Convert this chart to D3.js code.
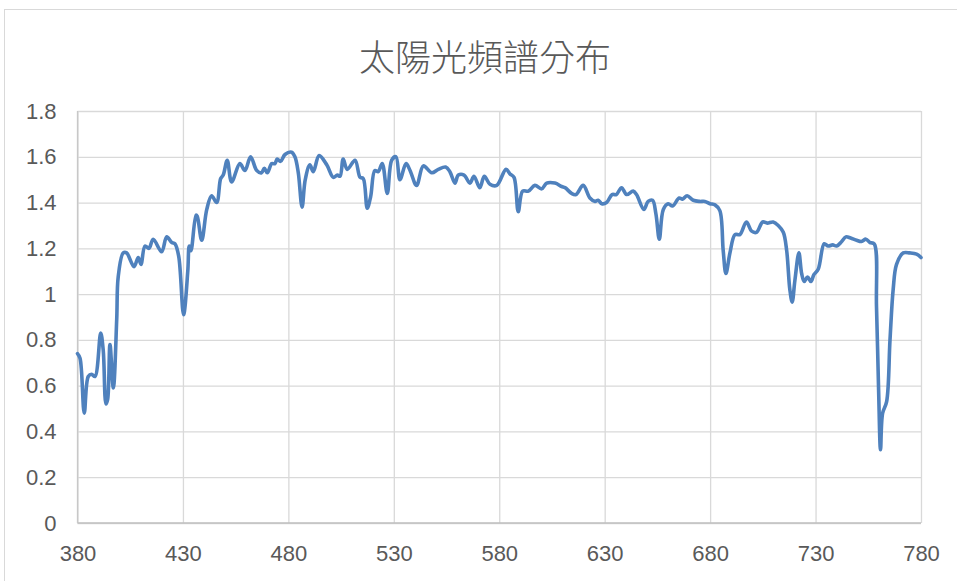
<!DOCTYPE html>
<html>
<head>
<meta charset="utf-8">
<script src="https://cdn.jsdelivr.net/npm/d3@7"></script>
<style>
  body { margin: 0; background: #fff; }
  svg { display: block; }
</style>
</head>
<body>
<div id="chart-area"></div>
<script>

// wavelength (nm) and relative intensity
var wavelength = [380, 381.2, 383.2, 385.1, 386.7, 388.3, 391, 392.2, 393.5, 394.3,
	395.4, 397, 398.6, 399.3, 401.7, 403.3, 406.8, 408.8, 410.1, 412,
	413.9, 415.9, 419.9, 422.3, 424.7, 426.2, 428, 430.3, 432.3, 433,
	433.8, 436.2, 436.8, 438.9, 441.3, 443.6, 446, 447.9, 449.1, 451,
	453.1, 457, 459.4, 462.1, 465, 467.3, 468.6, 470, 472.1, 473.6,
	474.7, 476.3, 478.4, 481.5, 483.1, 484.7, 486.5, 488, 490.2, 491.8,
	494.6, 498.2, 501.3, 503.2, 504.5, 506, 507.9, 511.6, 514, 515.5,
	517.4, 519, 521, 522.6, 524.5, 526.9, 529, 531, 532.9, 535.8,
	537.7, 540.8, 544, 548, 551.1, 554.6, 556.6, 559, 560.6, 563.3,
	566.1, 568, 570.8, 572.9, 575.6, 578.8, 583.2, 585.1, 587, 589,
	591.1, 593.8, 596.9, 600.1, 602.5, 606.4, 609.6, 611.2, 614.3, 616.4,
	619.8, 623, 625.4, 626.9, 628.6, 630.9, 633.5, 635.5, 638, 640.4,
	643.5, 645.1, 648.6, 650.6, 652.7, 654.3, 655.9, 657.8, 660.1, 662.2,
	665.3, 666.9, 669.1, 672, 675.1, 677.5, 679.9, 682.3, 684.6, 686.2,
	687.5, 689.4, 691.8, 694.1, 697.2, 699.7, 702, 704.9, 707.1, 709.9,
	712.3, 714.7, 716.3, 717.8, 718.9, 720.2, 722.1, 723.4, 724.6, 726.2,
	727.8, 729.2, 731.3, 734.1, 736, 738.1, 740, 742.4, 744.4, 746.6,
	749.5, 751.8, 753.9, 755.8, 757.8, 758.9, 759.9, 760.8, 761.8, 763.7,
	765.3, 766.8, 768.4, 771.6, 774.7, 777.9, 780];

var intensity = [0.74, 0.72, 0.48, 0.64, 0.65, 0.64, 0.83, 0.755, 0.52, 0.54,
	0.78, 0.59, 0.89, 1.075, 1.18, 1.18, 1.12, 1.16, 1.13, 1.21,
	1.20, 1.24, 1.185, 1.25, 1.225, 1.22, 1.165, 0.91, 1.10, 1.21,
	1.19, 1.345, 1.34, 1.235, 1.37, 1.43, 1.40, 1.505, 1.52, 1.585,
	1.49, 1.57, 1.54, 1.60, 1.54, 1.53, 1.55, 1.53, 1.57, 1.57,
	1.59, 1.58, 1.61, 1.62, 1.60, 1.53, 1.38, 1.50, 1.565, 1.535,
	1.605, 1.565, 1.51, 1.52, 1.515, 1.59, 1.545, 1.585, 1.51, 1.505,
	1.375, 1.425, 1.54, 1.535, 1.57, 1.44, 1.585, 1.60, 1.50, 1.57,
	1.54, 1.475, 1.56, 1.53, 1.545, 1.555, 1.535, 1.485, 1.52, 1.52,
	1.485, 1.515, 1.465, 1.515, 1.48, 1.475, 1.545, 1.525, 1.51, 1.36,
	1.45, 1.45, 1.475, 1.46, 1.485, 1.485, 1.47, 1.465, 1.44, 1.435,
	1.475, 1.42, 1.405, 1.41, 1.395, 1.40, 1.435, 1.435, 1.465, 1.435,
	1.45, 1.435, 1.37, 1.405, 1.41, 1.35, 1.24, 1.37, 1.395, 1.385,
	1.42, 1.415, 1.43, 1.41, 1.405, 1.405, 1.395, 1.39, 1.365, 1.19,
	1.09, 1.18, 1.26, 1.26, 1.315, 1.275, 1.27, 1.315, 1.31, 1.315,
	1.30, 1.27, 1.19, 1.02, 0.965, 1.06, 1.18, 1.09, 1.055, 1.075,
	1.055, 1.085, 1.11, 1.22, 1.21, 1.215, 1.21, 1.23, 1.25, 1.245,
	1.235, 1.23, 1.24, 1.225, 1.22, 0.945, 0.58, 0.32, 0.48, 0.53,
	0.80, 1.02, 1.13, 1.18, 1.18, 1.175, 1.16];

var xTicks = [380, 430, 480, 530, 580, 630, 680, 730, 780];
var yTicks = [0, 0.2, 0.4, 0.6, 0.8, 1, 1.2, 1.4, 1.6, 1.8];
var title = "太陽光頻譜分布";

var width = 957,
	height = 581;

var plot = {left: 77.5, right: 921, top: 111, bottom: 523};

var svg = d3.select("#chart-area").append("svg")
	.attr("width", width)
	.attr("height", height);

// chart frame
svg.append("rect")
	.attr("x", 4.5)
	.attr("y", 9.5)
	.attr("width", 970)
	.attr("height", 620)
	.attr("fill", "#fff")
	.attr("stroke", "#d9d9d9")
	.attr("stroke-width", 1);

var xScale = d3.scaleLinear()
	.domain([380, 780])
	.range([plot.left, plot.right]);

var yScale = d3.scaleLinear()
	.domain([0, 1.8])
	.range([plot.bottom, plot.top]);

svg.append("text")
	.attr("x", 485)
	.attr("y", 55)
	.attr("text-anchor", "middle")
	.attr("dominant-baseline", "central")
	.attr("font-family", "'Noto Sans CJK TC', 'Noto Sans CJK SC', sans-serif")
	.attr("font-weight", 300)
	.attr("font-size", 36)
	.attr("fill", "#595959")
	.text(title);

// y gridlines + labels
var yAxis = d3.axisLeft(yScale)
	.tickValues(yTicks)
	.tickSize(-(plot.right - plot.left))
	.tickPadding(21)
	.tickFormat(function(d) { return String(+d.toFixed(1)); });

var gy = svg.append("g")
	.attr("transform", "translate(" + plot.left + ",0)")
	.call(yAxis);

// x gridlines + labels
var xAxis = d3.axisBottom(xScale)
	.tickValues(xTicks)
	.tickSize(-(plot.bottom - plot.top))
	.tickPadding(22)
	.tickFormat(d3.format("d"));

var gx = svg.append("g")
	.attr("transform", "translate(0," + plot.bottom + ")")
	.call(xAxis);

[gx, gy].forEach(function(g) {
	g.select(".domain").remove();
	g.selectAll(".tick line")
		.attr("stroke", "#d9d9d9")
		.attr("stroke-width", 1.3);
	g.selectAll(".tick text")
		.attr("font-family", "'Liberation Sans', Arial, sans-serif")
		.attr("font-size", 22)
		.attr("fill", "#595959");
});

// axis lines
svg.append("line")
	.attr("x1", plot.left).attr("x2", plot.right)
	.attr("y1", plot.bottom).attr("y2", plot.bottom)
	.attr("stroke", "#bfbfbf")
	.attr("stroke-width", 1.5);

svg.append("line")
	.attr("x1", plot.left).attr("x2", plot.left)
	.attr("y1", plot.top).attr("y2", plot.bottom)
	.attr("stroke", "#c8c8c8")
	.attr("stroke-width", 1.3);

var points = wavelength.map(function(w, i) {
	return {x: w, y: intensity[i]};
});

var line = d3.line()
	.x(function(d) { return xScale(d.x); })
	.y(function(d) { return yScale(d.y); })
	.curve(d3.curveCatmullRom.alpha(0.5));

svg.append("path")
	.datum(points)
	.attr("fill", "none")
	.attr("stroke", "#4f81bd")
	.attr("stroke-width", 3.6)
	.attr("stroke-linejoin", "round")
	.attr("stroke-linecap", "round")
	.attr("d", line);

</script>
</body>
</html>
